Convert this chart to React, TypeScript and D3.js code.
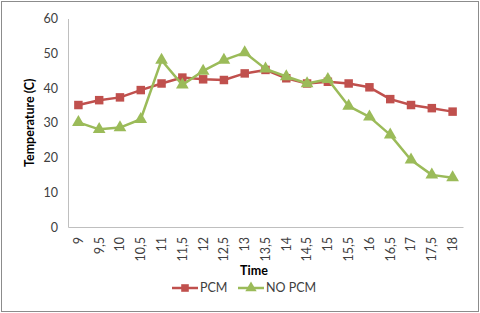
import React, { useRef, useEffect } from 'react';
import * as d3 from 'd3';

const times = ['9', '9,5', '10', '10,5', '11', '11,5', '12', '12,5', '13', '13,5', '14', '14,5', '15', '15,5', '16', '16,5', '17', '17,5', '18'];
const pcm = [35.1, 36.5, 37.3, 39.4, 41.3, 43, 42.5, 42.3, 44.2, 45.2, 42.8, 41.3, 41.8, 41.3, 40.2, 36.8, 35.1, 34.2, 33.2];
const noPcm = [30.1, 28.1, 28.6, 31, 48, 40.9, 44.9, 48, 50.2, 45.5, 43.3, 41.3, 42.5, 34.8, 31.7, 26.5, 19.3, 15, 14.2];
const yTicks = [0, 10, 20, 30, 40, 50, 60];

const W = 480;
const H = 313;
const FONT = 'Lato, "Open Sans", sans-serif';

const App = () => {
  const svgRef = useRef(null);

  useEffect(() => {
    const svg = d3.select(svgRef.current);
    svg.selectAll('*').remove();

    const margin = { top: 18.5, right: 17, bottom: 86, left: 68 };

    // border of the chart area
    svg.append('rect')
      .attr('x', 1.5).attr('y', 1.5)
      .attr('width', W - 3).attr('height', H - 3)
      .attr('fill', '#fff')
      .attr('stroke', '#8c8c8c')
      .attr('stroke-width', 1);

    const x = d3.scaleBand().domain(times).range([margin.left, W - margin.right]);
    const y = d3.scaleLinear().domain([0, 60]).range([H - margin.bottom, margin.top]);
    const cx = (d) => x(d) + x.bandwidth() / 2;

    // y axis
    const yAxis = svg.append('g')
      .attr('transform', `translate(${margin.left},0)`)
      .call(d3.axisLeft(y).tickValues(yTicks).tickSize(0).tickPadding(10));
    yAxis.select('.domain').attr('stroke', '#bfbfbf');
    yAxis.selectAll('text')
      .attr('font-family', FONT).attr('font-size', 12.5).attr('fill', '#404040');

    // x axis
    const xAxis = svg.append('g')
      .attr('transform', `translate(0,${y(0)})`)
      .call(d3.axisBottom(x).tickSize(0));
    xAxis.select('.domain').attr('stroke', '#bfbfbf');
    xAxis.selectAll('text')
      .attr('font-family', FONT).attr('font-size', 12.5).attr('fill', '#404040')
      .attr('text-anchor', 'end')
      .attr('transform', 'rotate(-90)')
      .attr('x', -10).attr('y', 0).attr('dy', '0.35em');

    // axis titles
    svg.append('text')
      .attr('x', 254).attr('y', 275)
      .attr('text-anchor', 'middle')
      .attr('font-family', FONT).attr('font-size', 12.5).attr('font-weight', 'bold')
      .attr('fill', '#000')
      .text('Time');

    svg.append('text')
      .attr('transform', `translate(34,${(y(0) + y(60)) / 2}) rotate(-90)`)
      .attr('text-anchor', 'middle')
      .attr('font-family', FONT).attr('font-size', 12.5).attr('font-weight', 'bold')
      .attr('fill', '#000')
      .text('Temperature (C)');

    const line = d3.line().x((d, i) => cx(times[i])).y((d) => y(d));

    const series = [
      { name: 'PCM', values: pcm, color: '#c0504d', shape: d3.symbolSquare, size: 72 },
      { name: 'NO PCM', values: noPcm, color: '#9bbb59', shape: d3.symbolTriangle, size: 70 },
    ];

    series.forEach((s) => {
      svg.append('path')
        .datum(s.values)
        .attr('d', line)
        .attr('fill', 'none')
        .attr('stroke', s.color)
        .attr('stroke-width', 2.5)
        .attr('stroke-linejoin', 'round');
      svg.append('g').selectAll('path')
        .data(s.values)
        .enter()
        .append('path')
        .attr('transform', (d, i) => `translate(${cx(times[i])},${y(d)})`)
        .attr('d', d3.symbol().type(s.shape).size(s.size))
        .attr('fill', s.color);
    });

    // legend
    const legendX = [172, 238];
    series.forEach((s, i) => {
      const g = svg.append('g').attr('transform', `translate(${legendX[i]},288)`);
      g.append('line')
        .attr('x1', 0).attr('x2', 26)
        .attr('stroke', s.color).attr('stroke-width', 2.5);
      g.append('path')
        .attr('transform', 'translate(13,0)')
        .attr('d', d3.symbol().type(s.shape).size(s.size * 0.8))
        .attr('fill', s.color);
      g.append('text')
        .attr('x', 28).attr('dy', '0.35em')
        .attr('font-family', FONT).attr('font-size', 12.5).attr('fill', '#404040')
        .text(s.name);
    });
  }, []);

  return (
    <svg ref={svgRef} width={W} height={H} style={{ position: 'absolute', left: 0, top: 0 }} />
  );
};

export default App;
